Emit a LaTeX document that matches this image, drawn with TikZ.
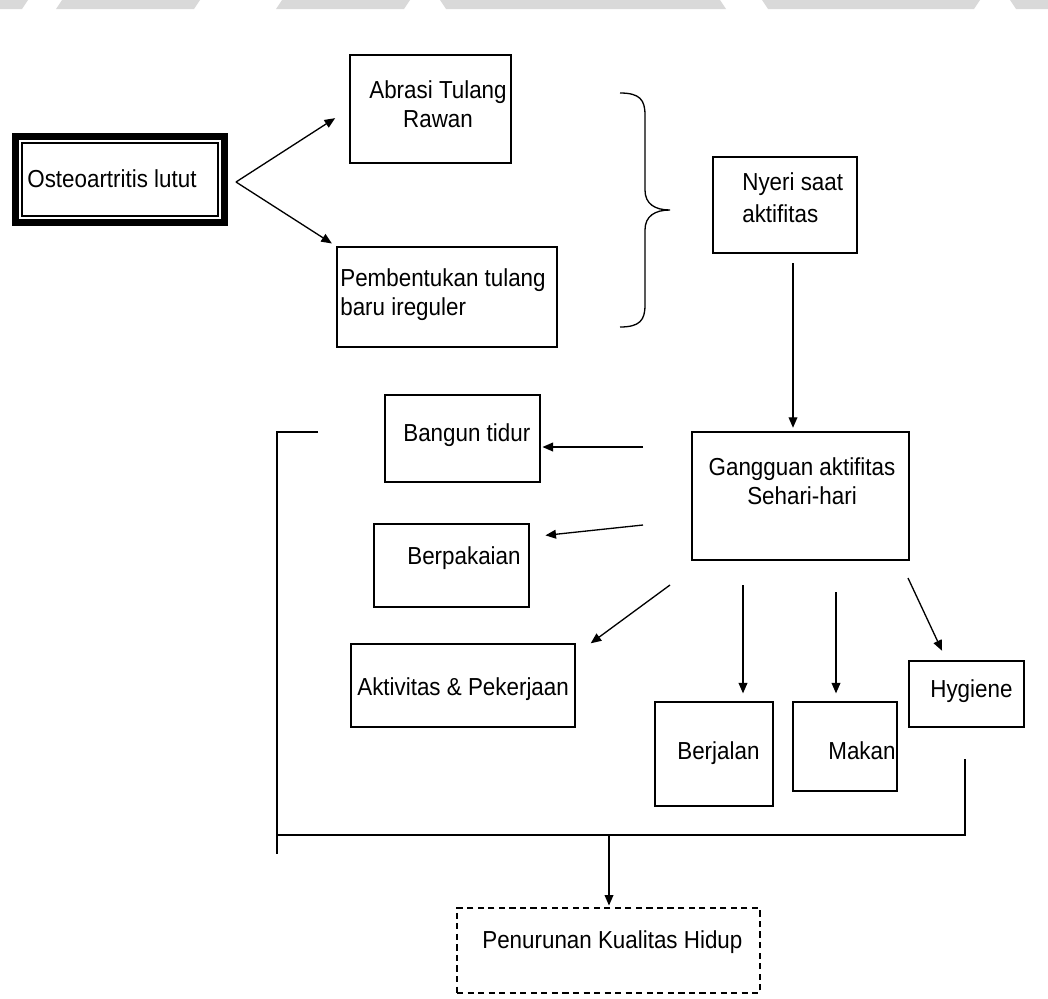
\documentclass[tikz,border=0pt]{standalone}
\usepackage{fontspec}
\setmainfont{Liberation Sans}[FakeStretch=0.91]
\usepackage{tikz}
\usetikzlibrary{arrows.meta,fit}
\tikzstyle{plainbox} = [draw=black, line width=0.8pt, rectangle, inner sep=0pt]
\tikzstyle{thickbox} = [draw=black, line width=4pt, rectangle, inner sep=0pt]
\tikzstyle{dashbox} = [plainbox, dash pattern=on 3.5pt off 2.5pt]
\tikzstyle{boxtext} = [font=\fontsize{14}{16.5}\selectfont, inner sep=0pt]
\tikzstyle{arrowline} = [line width=0.75pt, -{Triangle[length=6pt,width=5pt]}]
\tikzstyle{plainline} = [line width=0.75pt]

\begin{document}
\begin{tikzpicture}[x=0.02cm, y=-0.02cm]
\useasboundingbox (0,0) rectangle (1048,998);
% sisa watermark di tepi atas
\fill[gray!30] (0,0) -- (28,0) -- (22,9) -- (0,9) -- cycle;
\fill[gray!30] (62,0) -- (200,0) -- (194,9) -- (56,9) -- cycle;
\fill[gray!30] (282,0) -- (410,0) -- (404,9) -- (276,9) -- cycle;
\fill[gray!30] (440,0) -- (720,0) -- (726,9) -- (446,9) -- cycle;
\fill[gray!30] (762,0) -- (980,0) -- (974,9) -- (768,9) -- cycle;
\fill[gray!30] (1010,0) -- (1048,0) -- (1048,9) -- (1016,9) -- cycle;
% kotak-kotak
\node[thickbox, fit={(15.5,136.5) (224.5,222.5)}] (osteo) {};
\node[plainbox, line width=0.6pt, fit={(22,143) (218,216)}] (osteoin) {};
\node[boxtext, anchor=base west] (osteotxt) at (27,187) {Osteoartritis lutut};
\node[plainbox, fit={(350,55) (511,163)}] (abrasi) {};
\node[boxtext, align=center, anchor=north] (abrasitxt) at (438,80) {Abrasi Tulang\\Rawan};
\node[plainbox, fit={(337,247) (557,347)}] (bentuk) {};
\node[boxtext, align=left, anchor=north west] (bentuktxt) at (340,268) {Pembentukan tulang\\baru ireguler};
\node[plainbox, fit={(713,157) (857,253)}] (nyeri) {};
\node[boxtext, align=left, anchor=north west] (nyeritxt) at (742,172) {Nyeri saat\\[2pt]aktifitas};
\node[plainbox, fit={(692,432) (909,560)}] (ganggu) {};
\node[boxtext, align=center, anchor=north] (ganggutxt) at (802,457) {Gangguan aktifitas\\Sehari-hari};
\node[plainbox, fit={(385,395) (540,482)}] (bangun) {};
\node[boxtext, anchor=base west] (bangunxt) at (403,441) {Bangun tidur};
\node[plainbox, fit={(374,524) (529,607)}] (pakai) {};
\node[boxtext, anchor=base west] (pakaitxt) at (407,564) {Berpakaian};
\node[plainbox, fit={(351,644) (575,727)}] (kerja) {};
\node[boxtext, anchor=base west] (kerjatxt) at (357,695) {Aktivitas \& Pekerjaan};
\node[plainbox, fit={(655,702) (773,806)}] (jalan) {};
\node[boxtext, anchor=base west] (jalantxt) at (677,759) {Berjalan};
\node[plainbox, fit={(793,702) (897,791)}] (makan) {};
\node[boxtext, anchor=base west] (makantxt) at (828,759) {Makan};
\node[plainbox, fit={(909,661) (1024,727)}] (hygiene) {};
\node[boxtext, anchor=base west] (hygienetxt) at (930,697) {Hygiene};
\node[dashbox, fit={(457,908) (760,993)}] (hidup) {};
\node[boxtext, anchor=base west] (hiduptxt) at (482,948) {Penurunan Kualitas Hidup};

% titik bebas
\coordinate (fork) at (236,182);
\coordinate (n1) at (793,263);
\coordinate (b1) at (643,447);
\coordinate (p1) at (643,525);
\coordinate (k1) at (670,585);
\coordinate (j1) at (743,585);
\coordinate (m1) at (836,592);
\coordinate (h1) at (908,578);
\coordinate (kiriatas) at (318,432);
\coordinate (kirisudut) at (277,432);
\coordinate (kiribawah) at (277,854);
\coordinate (kirigaris) at (277,835);
\coordinate (kanangaris) at (965,835);
\coordinate (kananatas) at (965,759);
\coordinate (t1) at (609,835);

% panah
\draw[arrowline, shorten >=9.6pt] (fork) -- (abrasi.west);
\draw[arrowline, shorten >=3pt] (fork) -- (bentuk.north west);
\draw[arrowline, shorten >=2pt] (n1) -- (n1 |- ganggu.north);
\draw[arrowline, shorten >=1pt] (b1) -- (b1 -| bangun.east);
\draw[arrowline, shorten >=9pt] (p1) -- (pakai.20);
\draw[arrowline] (k1) -- ([xshift=0.3cm]kerja.north east);
\draw[arrowline, shorten >=4.5pt] (j1) -- (j1 |- jalan.north);
\draw[arrowline, shorten >=4.5pt] (m1) -- (m1 |- makan.north);
\draw[arrowline, shorten >=6pt] (h1) -- ([xshift=-0.4cm]hygiene.north);

% kurung kurawal
\draw[plainline] (620,93) .. controls (640,93) and (645,100) .. (645,115)
  -- (645,190) .. controls (645,204) and (655,210) .. (670,210)
  .. controls (655,210) and (645,216) .. (645,230)
  -- (645,305) .. controls (645,320) and (640,327) .. (620,327);

% garis penghubung bawah
\draw[plainline] (kiriatas) -- (kirisudut) -- (kiribawah);
\draw[plainline] (kirigaris) -- (kanangaris) -- (kananatas);
\draw[arrowline, shorten >=1pt] (t1) -- (t1 |- hidup.north);
\end{tikzpicture}
\end{document}
